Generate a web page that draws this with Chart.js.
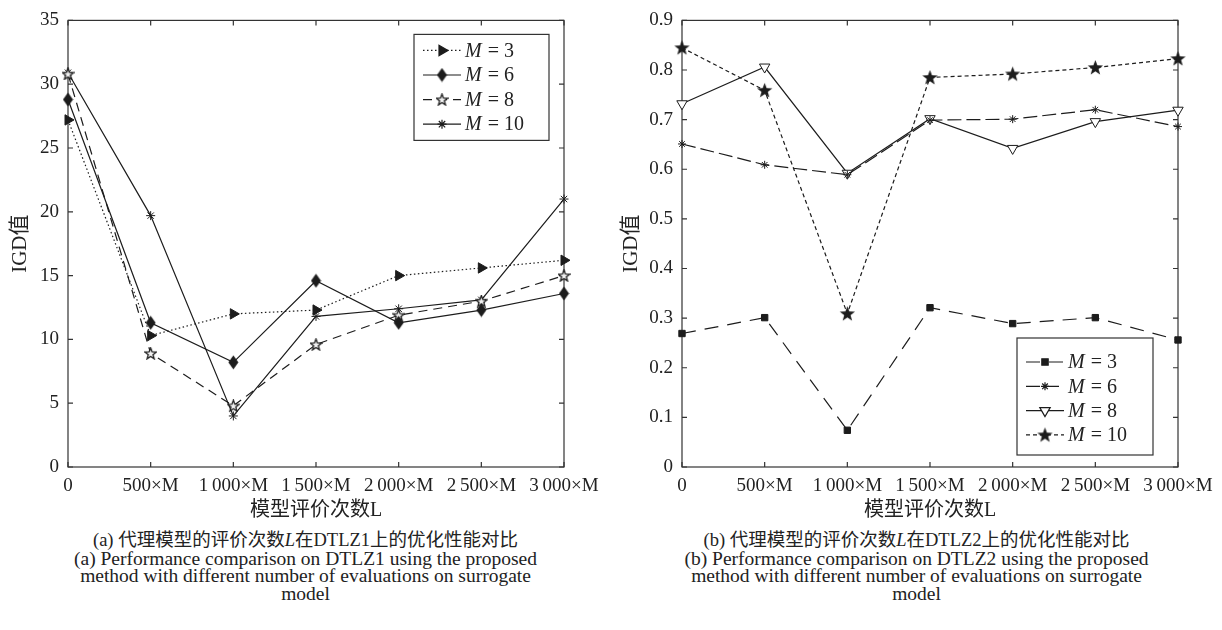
<!DOCTYPE html>
<html>
<head>
<meta charset="utf-8">
<script src="https://cdn.jsdelivr.net/npm/chart.js@4/dist/chart.umd.min.js"></script>
<style>
  body { margin: 0; background: #fff; }
  #wrap { position: relative; width: 1222px; height: 630px; }
  .plot { position: absolute; top: 0; }
  .cap {
    position: absolute; top: 531px; width: 611px; text-align: center;
    font-family: "Liberation Serif", "Noto Sans CJK SC", serif;
    font-size: 19.5px; line-height: 17.5px; color: #222;
  }
  .cap .zh { font-size: 18.5px; }
</style>
</head>
<body>
<div id="wrap">
  <canvas id="chartA" class="plot" width="611" height="525" style="left:0"></canvas>
  <canvas id="chartB" class="plot" width="611" height="525" style="left:611px"></canvas>
  <div class="cap" style="left:0"><span class="zh">(a) 代理模型的评价次数<i>L</i>在DTLZ1上的优化性能对比</span><br>(a) Performance comparison on DTLZ1 using the proposed<br>method with different number of evaluations on surrogate<br>model</div>
  <div class="cap" style="left:611px"><span class="zh">(b) 代理模型的评价次数<i>L</i>在DTLZ2上的优化性能对比</span><br>(b) Performance comparison on DTLZ2 using the proposed<br>method with different number of evaluations on surrogate<br>model</div>
</div>
<script>
// x categories (number of surrogate evaluations)
const evalLabels = ['0', '500×M', '1\u2009000×M', '1\u2009500×M', '2\u2009000×M', '2\u2009500×M', '3\u2009000×M'];
const seriesNames = ['3', '6', '8', '10'];

// DTLZ1 IGD
const dtlz1M3 = [27.2, 10.3, 12.0, 12.3, 15.0, 15.6, 16.2];
const dtlz1M6 = [28.8, 11.3, 8.2, 14.6, 11.3, 12.3, 13.6];
const dtlz1M8 = [30.8, 8.9, 4.8, 9.6, 11.9, 13.0, 15.0];
const dtlz1M10 = [30.9, 19.7, 4.0, 11.8, 12.4, 13.1, 21.0];

// DTLZ2 IGD
const dtlz2M3 = [0.269, 0.301, 0.074, 0.321, 0.289, 0.301, 0.256];
const dtlz2M6 = [0.651, 0.609, 0.589, 0.699, 0.701, 0.720, 0.686];
const dtlz2M8 = [0.732, 0.806, 0.592, 0.702, 0.642, 0.696, 0.719];
const dtlz2M10 = [0.845, 0.759, 0.309, 0.785, 0.792, 0.805, 0.823];

const INK = '#1c1c1c';
const SERIF = '"Liberation Serif", "Noto Sans CJK SC", serif';

// small canvases used as point styles
function marker(w, h, draw) {
  const c = document.createElement('canvas');
  c.width = w; c.height = h;
  const g = c.getContext('2d');
  draw(g, w, h);
  return c;
}
function starPath(g, cx, cy, R) {
  const r = R * 0.42;
  g.beginPath();
  for (let i = 0; i < 10; i++) {
    const a = -Math.PI / 2 + i * Math.PI / 5;
    const rad = i % 2 ? r : R;
    g.lineTo(cx + rad * Math.cos(a), cy + rad * Math.sin(a));
  }
  g.closePath();
}
const diamond = marker(11, 15, (g, w, h) => {
  g.fillStyle = INK;
  g.beginPath();
  g.moveTo(w / 2, 0.5); g.lineTo(w - 0.5, h / 2); g.lineTo(w / 2, h - 0.5); g.lineTo(0.5, h / 2);
  g.closePath(); g.fill();
});
const openStar = marker(13, 13, (g) => {
  starPath(g, 6.5, 7, 6);
  g.fillStyle = '#f2f2f2'; g.fill();
  g.strokeStyle = INK; g.lineWidth = 1.3; g.stroke();
});
const fullStar = marker(17, 17, (g) => {
  starPath(g, 8.5, 9, 8);
  g.fillStyle = INK; g.fill();
});

function line(label, data, dash, pointStyle, radius, extra) {
  return Object.assign({
    label: label, data: data,
    borderColor: INK, backgroundColor: INK,
    borderWidth: 1.2, borderDash: dash,
    pointStyle: pointStyle, pointRadius: radius, pointHoverRadius: radius,
    pointBorderWidth: 1, pointBorderColor: INK, pointBackgroundColor: INK,
    tension: 0, clip: false
  }, extra || {});
}

// frame with inward ticks on all four sides
const framePlugin = {
  id: 'frame',
  beforeDatasetsDraw(chart) {
    const { ctx, chartArea: a, scales } = chart;
    ctx.save();
    ctx.strokeStyle = '#333';
    ctx.lineWidth = 1.2;
    ctx.strokeRect(a.left, a.top, a.right - a.left, a.bottom - a.top);
    const t = 5;
    ctx.beginPath();
    scales.x.ticks.forEach((tk, i) => {
      const x = scales.x.getPixelForTick(i);
      ctx.moveTo(x, a.bottom); ctx.lineTo(x, a.bottom - t);
      ctx.moveTo(x, a.top); ctx.lineTo(x, a.top + t);
    });
    scales.y.ticks.forEach((tk) => {
      const y = scales.y.getPixelForValue(tk.value);
      ctx.moveTo(a.left, y); ctx.lineTo(a.left + t, y);
      ctx.moveTo(a.right, y); ctx.lineTo(a.right - t, y);
    });
    ctx.stroke();
    ctx.restore();
  }
};

// boxed legend drawn inside the plot area
const boxLegend = {
  id: 'boxLegend',
  afterDraw(chart, args, o) {
    const { ctx, chartArea: a } = chart;
    const bx = o.fromRight ? a.right - o.fromRight - o.w : a.left + o.fromLeft;
    const by = o.fromBottom ? a.bottom - o.fromBottom - o.h : a.top + o.fromTop;
    ctx.save();
    ctx.fillStyle = '#fff';
    ctx.fillRect(bx, by, o.w, o.h);
    ctx.strokeStyle = '#333';
    ctx.lineWidth = 1.2;
    ctx.strokeRect(bx, by, o.w, o.h);
    chart.data.datasets.forEach((ds, i) => {
      const y = by + o.first + i * o.step;
      const x1 = bx + 9, x2 = bx + 47;
      ctx.strokeStyle = INK;
      ctx.lineWidth = 1.2;
      ctx.setLineDash(ds.borderDash || []);
      ctx.beginPath(); ctx.moveTo(x1, y); ctx.lineTo(x2, y); ctx.stroke();
      ctx.setLineDash([]);
      ctx.fillStyle = ds.pointBackgroundColor;
      ctx.strokeStyle = INK;
      Chart.helpers.drawPoint(ctx, {
        pointStyle: ds.pointStyle, radius: ds.pointRadius,
        rotation: ds.pointRotation || 0, borderWidth: 1
      }, (x1 + x2) / 2, y);
      ctx.fillStyle = '#222';
      ctx.textBaseline = 'middle';
      ctx.font = 'italic 20px ' + SERIF;
      ctx.fillText('M', x2 + 4, y + 1);
      const mw = ctx.measureText('M').width;
      ctx.font = '20px ' + SERIF;
      ctx.fillText(' = ' + seriesNames[i], x2 + 4 + mw + 1, y + 1);
    });
    ctx.restore();
  }
};

function makeOptions(yMax, yStep, yWidth, yFmt, legend) {
  return {
    responsive: false,
    animation: false,
    devicePixelRatio: 1,
    layout: { padding: { top: 15, right: 611 - yWidth - 496, bottom: 0, left: 0 } },
    plugins: { legend: { display: false }, tooltip: { enabled: false }, boxLegend: legend },
    scales: {
      x: {
        offset: false,
        grid: { display: false, drawTicks: false }, border: { display: false },
        ticks: { color: '#222', font: { family: SERIF, size: 19 }, padding: 8, maxRotation: 0, autoSkip: false },
        title: { display: true, text: '模型评价次数L', color: '#222', font: { family: SERIF, size: 20 }, padding: { top: 3, bottom: 2 } },
        afterFit(s) { s.height = 58; }
      },
      y: {
        min: 0, max: yMax,
        grid: { display: false, drawTicks: false }, border: { display: false },
        ticks: { stepSize: yStep, color: '#222', font: { family: SERIF, size: 19 }, padding: 9, callback: yFmt },
        title: { display: true, text: 'IGD值', color: '#222', font: { family: SERIF, size: 21 }, padding: { top: 8, bottom: 0 } },
        afterFit(s) { s.width = yWidth; }
      }
    }
  };
}

new Chart(document.getElementById('chartA'), {
  type: 'line',
  data: {
    labels: evalLabels,
    datasets: [
      line('M = 3', dtlz1M3, [1.5, 2.5], 'triangle', 6, { pointRotation: 90 }),
      line('M = 6', dtlz1M6, [], diamond, 6),
      line('M = 8', dtlz1M8, [9, 6], openStar, 6),
      line('M = 10', dtlz1M10, [], 'star', 4.5)
    ]
  },
  options: makeOptions(35, 5, 68, v => String(v),
    { fromRight: 15, fromTop: 14, w: 135, h: 106, first: 16, step: 24.6 }),
  plugins: [framePlugin, boxLegend]
});

new Chart(document.getElementById('chartB'), {
  type: 'line',
  data: {
    labels: evalLabels,
    datasets: [
      line('M = 3', dtlz2M3, [14, 9], 'rect', 4.5),
      line('M = 6', dtlz2M6, [14, 5], 'star', 4),
      line('M = 8', dtlz2M8, [], 'triangle', 6, { pointRotation: 180, pointBackgroundColor: '#fff' }),
      line('M = 10', dtlz2M10, [4, 3], fullStar, 8)
    ]
  },
  options: makeOptions(0.9, 0.1, 71, v => v === 0 ? '0' : (Math.round(v * 10) / 10).toFixed(1),
    { fromRight: 25, fromBottom: 12, w: 136, h: 117, first: 24, step: 24.3 }),
  plugins: [framePlugin, boxLegend]
});
</script>
</body>
</html>
